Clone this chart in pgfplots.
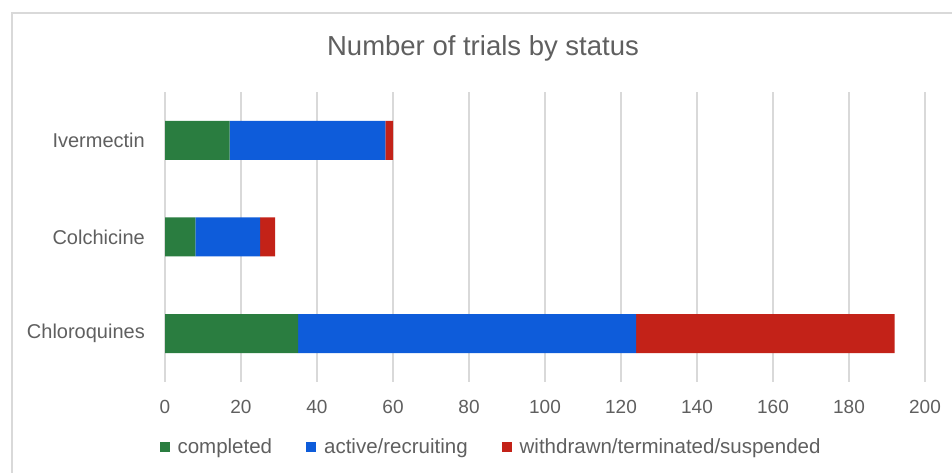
\documentclass[border=0pt]{standalone}
\usepackage{fontspec}
\setmainfont{Liberation Sans}
\usepackage{pgfplots}
\pgfplotsset{compat=1.18}
\definecolor{cgreen}{RGB}{42,125,64}
\definecolor{cblue}{RGB}{14,92,218}
\definecolor{cred}{RGB}{195,34,24}
\definecolor{ctext}{RGB}{95,95,95}
\definecolor{cgrid}{RGB}{217,217,217}
\begin{document}
\begin{tikzpicture}[x=1pt,y=1pt]
\path[use as bounding box] (0,0) rectangle (952,473);
\draw[cgrid, line width=1.5pt] (12,0) -- (12,460) -- (952,460);
\node[text=ctext, font=\fontsize{27.5}{32}\selectfont] at (483,425) {Number of trials by status};
\begin{axis}[at={(165pt,91pt)}, anchor=south west, scale only axis,
  width=760pt, height=290pt,
  xbar stacked, bar width=39pt,
  xmin=0, xmax=200, ymin=-0.5, ymax=2.5,
  ytick={0,1,2}, yticklabels={Chloroquines,Colchicine,Ivermectin},
  xtick={0,20,...,200},
  axis line style={draw=none},
  major tick length=0pt,
  xmajorgrids, grid style={cgrid, line width=1.3pt},
  tick label style={text=ctext, font=\fontsize{19}{22}\selectfont},
  yticklabel style={font=\fontsize{20}{24}\selectfont},
  /pgf/number format/assume math mode=true,
  xticklabel style={anchor=center, yshift=-25pt},
  yticklabel style={anchor=east, inner sep=0pt, xshift=-20pt},
  legend style={at={(0.429,-0.224)}, anchor=center, draw=none, fill=none,
    legend columns=3, font=\fontsize{20.5}{24}\selectfont, text=ctext,
    /tikz/every odd column/.append style={column sep=6pt},
    /tikz/every even column/.append style={column sep=32pt}},
  legend image code/.code={\fill[#1] (0pt,-5pt) rectangle (10pt,5pt);},
]
\addplot[fill=cgreen, draw=none] coordinates {(35,0) (8,1) (17,2)};
\addplot[fill=cblue, draw=none] coordinates {(89,0) (17,1) (41,2)};
\addplot[fill=cred, draw=none] coordinates {(68,0) (4,1) (2,2)};
\legend{completed, active/recruiting, withdrawn/terminated/suspended}
\end{axis}
\end{tikzpicture}
\end{document}
